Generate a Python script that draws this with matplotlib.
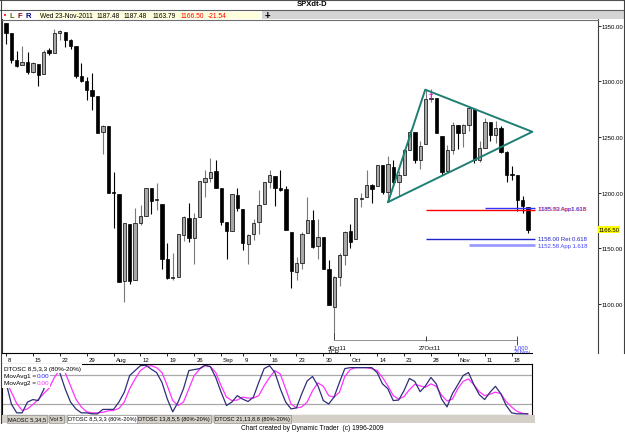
import matplotlib
matplotlib.use('Agg')
import matplotlib.pyplot as plt
import matplotlib.transforms as mtransforms
from matplotlib.patches import Rectangle
from matplotlib.lines import Line2D

# donnees SPX journalieres (8 juil. -> 23 nov. 2011)
opens = [1352.39, 1343.31, 1319.61, 1314.45, 1317.74, 1308.87, 1315.94, 1307.07, 1328.66, 1325.65,
         1343.80, 1344.32, 1337.39, 1331.91, 1304.84, 1300.12, 1292.59, 1286.56, 1254.25, 1260.23,
         1200.28, 1198.48, 1120.23, 1171.77, 1121.30, 1172.87, 1178.86, 1204.22, 1192.89, 1189.62,
         1140.47, 1123.55, 1124.36, 1162.16, 1176.69, 1158.85, 1177.91, 1209.76, 1213.00, 1219.12,
         1203.90, 1173.97, 1165.85, 1197.98, 1185.37, 1153.50, 1162.59, 1173.32, 1189.44, 1209.21,
         1214.99, 1204.50, 1203.63, 1164.55, 1128.82, 1136.91, 1163.32, 1175.39, 1151.74, 1159.93,
         1131.21, 1097.42, 1124.03, 1144.11, 1165.03, 1158.15, 1194.60, 1196.19, 1206.96, 1205.65,
         1224.47, 1200.75, 1223.46, 1209.92, 1215.39, 1238.72, 1254.19, 1229.17, 1243.97, 1284.39,
         1284.96, 1251.00, 1219.62, 1238.25, 1260.82, 1253.21, 1261.12, 1275.18, 1229.59, 1240.12,
         1263.25, 1251.70, 1257.81, 1236.56, 1216.19, 1215.62, 1192.98, 1187.48]
highs = [1352.39, 1343.31, 1327.17, 1331.48, 1326.88, 1317.70, 1315.94, 1328.14, 1330.43, 1347.00,
         1346.10, 1344.32, 1338.51, 1331.91, 1316.32, 1304.16, 1307.38, 1286.58, 1261.20, 1260.23,
         1218.11, 1198.48, 1172.88, 1171.77, 1186.29, 1189.04, 1204.49, 1204.22, 1208.47, 1189.62,
         1154.54, 1145.49, 1162.35, 1178.56, 1190.68, 1181.23, 1210.08, 1220.10, 1230.71, 1229.29,
         1203.90, 1173.97, 1198.62, 1204.40, 1185.37, 1162.52, 1176.41, 1202.38, 1209.11, 1220.06,
         1214.99, 1220.39, 1206.30, 1164.55, 1141.72, 1164.19, 1195.86, 1184.71, 1175.87, 1159.93,
         1138.99, 1125.12, 1146.07, 1165.55, 1171.40, 1194.91, 1199.24, 1220.25, 1207.46, 1224.61,
         1224.47, 1233.10, 1229.64, 1219.36, 1239.03, 1256.55, 1254.19, 1246.28, 1292.66, 1292.99,
         1284.96, 1251.00, 1242.48, 1263.21, 1260.82, 1261.70, 1277.55, 1275.18, 1246.22, 1266.98,
         1263.25, 1264.25, 1259.61, 1237.73, 1223.51, 1215.62, 1196.81, 1187.48]
lows = [1333.71, 1316.42, 1313.33, 1314.45, 1306.51, 1307.35, 1295.92, 1307.07, 1323.65, 1325.65,
        1336.95, 1331.09, 1329.10, 1303.49, 1299.16, 1282.86, 1274.73, 1254.03, 1234.56, 1199.54,
        1168.09, 1119.28, 1101.54, 1118.01, 1121.30, 1170.74, 1178.86, 1180.53, 1184.36, 1131.03,
        1122.05, 1121.09, 1124.36, 1156.30, 1155.47, 1135.91, 1177.91, 1195.77, 1209.35, 1203.85,
        1170.56, 1140.13, 1165.85, 1183.34, 1148.37, 1136.07, 1157.44, 1162.73, 1189.44, 1204.46,
        1188.36, 1201.29, 1166.21, 1114.22, 1121.36, 1131.07, 1163.32, 1150.40, 1139.93, 1131.34,
        1098.92, 1074.77, 1115.68, 1134.95, 1150.26, 1158.15, 1187.30, 1196.19, 1190.58, 1205.65,
        1198.55, 1191.48, 1206.31, 1197.34, 1215.39, 1238.72, 1226.79, 1221.06, 1243.97, 1281.10,
        1253.16, 1215.42, 1219.62, 1234.81, 1238.92, 1240.75, 1254.99, 1226.64, 1227.70, 1240.12,
        1246.68, 1244.34, 1235.67, 1209.43, 1211.36, 1183.16, 1181.65, 1163.79]
closes = [1343.80, 1319.49, 1313.64, 1317.72, 1308.87, 1316.14, 1305.44, 1326.73, 1325.84, 1343.80,
          1345.02, 1337.43, 1331.94, 1304.89, 1300.67, 1292.28, 1286.94, 1254.05, 1260.34, 1200.07,
          1199.38, 1119.46, 1172.53, 1120.76, 1172.64, 1178.81, 1204.49, 1192.76, 1193.89, 1140.65,
          1123.53, 1123.82, 1162.35, 1177.60, 1159.27, 1176.80, 1210.08, 1212.92, 1218.89, 1204.42,
          1173.97, 1165.24, 1198.62, 1185.90, 1154.23, 1162.27, 1172.87, 1188.68, 1209.11, 1216.01,
          1204.09, 1202.09, 1166.76, 1129.56, 1136.43, 1162.95, 1175.38, 1151.06, 1160.40, 1131.42,
          1099.23, 1123.95, 1144.03, 1164.97, 1155.46, 1194.89, 1195.54, 1207.25, 1203.66, 1224.58,
          1200.86, 1225.38, 1209.88, 1215.39, 1238.25, 1254.19, 1229.05, 1242.00, 1284.59, 1285.09,
          1253.30, 1218.28, 1237.90, 1261.15, 1253.23, 1261.12, 1275.92, 1229.10, 1239.69, 1263.85,
          1251.78, 1257.81, 1236.91, 1216.13, 1215.65, 1192.98, 1188.04, 1166.50]

# DTOSC 8,5,3,3
dtosc_fast = [65, 21, 3, 3, 25, 30, 28, 50, 85, 98, 85, 52, 25, 11, 3, 3, 1, 1, 10, 10,
              10, 25, 45, 79, 89, 99, 100, 92, 85, 65, 31, 5, 25, 52, 89, 91, 93, 100, 97, 75,
              45, 18, 25, 38, 31, 26, 35, 65, 93, 99, 85, 52, 25, 11, 13, 42, 68, 77, 58, 28,
              21, 35, 65, 93, 95, 95, 95, 95, 95, 85, 62, 52, 28, 29, 48, 73, 67, 46, 58, 75,
              62, 31, 15, 42, 60, 79, 85, 60, 40, 30, 45, 57, 42, 18, 3, 1, 1, 1]
dtosc_slow = [68, 45, 22, 8, 11, 20, 30, 42, 53, 75, 90, 85, 58, 31, 15, 5, 3, 3, 4, 7,
              8, 12, 25, 52, 72, 89, 97, 99, 95, 85, 58, 28, 18, 25, 52, 79, 92, 99, 97, 85,
              58, 35, 28, 29, 35, 33, 33, 38, 58, 75, 89, 82, 52, 21, 13, 15, 25, 48, 64, 57,
              38, 35, 45, 77, 91, 95, 95, 95, 93, 89, 75, 58, 38, 31, 36, 50, 61, 58, 55, 62,
              57, 39, 27, 31, 52, 67, 72, 60, 46, 38, 41, 45, 42, 26, 15, 6, 2, 1]

# semaines (vendredis) et etiquettes
week_idx = [0, 5, 10, 15, 20, 25, 30, 35, 40, 44, 49, 54, 59, 64, 69, 74, 79, 84, 89, 94]
week_lab = ['8', '15', '22', '29', 'Aug', '12', '19', '26', 'Sep', '9', '16', '23', '30',
            'Oct', '14', '21', '28', 'Nov', '11', '18']
price_ticks = [1100, 1150, 1200, 1250, 1300, 1350]

# triangle et niveaux
tri_x = [71, 77.9, 97.8, 71]
tri_y = [1191.5, 1292.6, 1254.7, 1191.5]
tabs = ['MAOSC 5,34,5', 'Vol 5', 'DTOSC 8,5,3,3 (80%-20%)', 'DTOSC 13,8,5,5 (80%-20%)',
        'DTOSC 21,13,8,8 (80%-20%)']
tab_x = [8, 50, 68, 138, 215]

plt.rcParams['font.family'] = ['Liberation Sans', 'DejaVu Sans']

W, H = 625, 435


def box(x0, y0, x1, y1):
    return [x0 / W, 1 - y1 / H, (x1 - x0) / W, (y1 - y0) / H]


def fx(x):
    return x / W


def fy(y):
    return 1 - y / H


fig = plt.figure(figsize=(6.25, 4.35), dpi=100)

# ---- entete
fig.add_artist(Line2D([0, 1], [fy(0.5), fy(0.5)], color='#505050', lw=0.8))
fig.text(fx(312), fy(5), 'SPXdt-D', ha='center', va='center', fontsize=5.5, weight='bold')
fig.add_artist(Line2D([0, 1], [fy(10.5), fy(10.5)], color='#606060', lw=0.8))
fig.add_artist(Rectangle((fx(262), fy(19.5)), fx(625 - 262), 9 / H, facecolor='#d4d4d4',
                         edgecolor='none'))
fig.add_artist(Rectangle((fx(38), fy(19.5)), fx(222), 7 / H, facecolor='#ffffdc',
                         edgecolor='none'))
fig.text(fx(5), fy(16), '•', color='red', fontsize=5, ha='center', va='center', family='DejaVu Sans')
for xx, t, c in [(12, 'L', '#556b00'), (20, 'F', '#8b0000'), (28, 'R', '#000080')]:
    fig.text(fx(xx), fy(16), t, color=c, fontsize=5.5, ha='center', va='center', weight='bold')
for xx, t, c in [(40, 'Wed 23-Nov-2011', 'black'), (97, '1187.48', 'black'),
                 (124, '1187.48', 'black'), (153, '1163.79', 'black'),
                 (181, '1166.50', 'red'), (208, '-21.54', 'red')]:
    fig.text(fx(xx), fy(16), t, color=c, fontsize=4.8, ha='left', va='center')
fig.text(fx(267), fy(16), '+', fontsize=7, ha='center', va='center', weight='bold')

# ---- graphique principal
ax = fig.add_axes(box(2, 20.5, 598, 354))
n = len(closes)
xs = list(range(n))
body_b, body_h, body_c, wick_c = [], [], [], []
for o, c in zip(opens, closes):
    body_b.append(min(o, c))
    body_h.append(max(abs(c - o), 0.8))
    body_c.append('#a8a8a8' if c >= o else 'black')
    wick_c.append('#7a7a7a' if c >= o else 'black')
ax.vlines(xs, lows, highs, colors=wick_c, lw=0.8, zorder=2)
ax.bar(xs, body_h, bottom=body_b, width=0.62, color=body_c, edgecolor='black', lw=0.5, zorder=3)

ax.plot(tri_x, tri_y, color='#1f7f73', lw=1.4, zorder=4, clip_on=False)
ax.text(79, 1288, '†', color='#ff00ff', fontsize=6, ha='center', va='center', family='DejaVu Sans')

# niveaux de prix
ax.hlines(1184.5, 78, 98.3, color='red', lw=1, zorder=4)
ax.hlines(1185.8, 89, 98.3, color='#3333ff', lw=1, zorder=4)
ax.hlines(1158.0, 78, 98.3, color='#2222cc', lw=1, zorder=4)
ax.hlines(1152.58, 86, 98.3, color='#9a9aff', lw=2, zorder=4)
ax.text(98.9, 1185.9, '1185.93 App1.618', color='#3333ff', fontsize=4.3, va='center')
ax.text(98.95, 1185.3, '1185.53 Apc1.618', color='#ff2020', fontsize=4.3, va='center', alpha=0.8)
ax.text(98.9, 1158.6, '1158.00 Ret 0.618', color='#2222cc', fontsize=4.3, va='center')
ax.text(98.9, 1152.3, '1152.58 App 1.618', color='#4444ff', fontsize=4.3, va='center')

# marqueurs de temps
ax.hlines(1067.5, 61, 95, color='#909090', lw=0.7)
ax.vlines(61, 1067.5, lows[61], color='#404040', lw=0.7)
ax.vlines(78, 1066.5, 1071, color='#404040', lw=0.7)
ax.vlines(95, 1063, 1071, color='#3333ff', lw=0.7)
ax.text(59.9, 1061, '4Oct11', fontsize=4.2, va='center')
ax.text(59.9, 1057.3, 'TCR', fontsize=4.2, va='center')
ax.text(76.6, 1061, '27Oct11', fontsize=4.2, va='center')
ax.text(94.3, 1061, '1.000', fontsize=4.2, va='center', color='#3333ff')
ax.text(94.3, 1057.3, '21Nov', fontsize=4.2, va='center', color='#3333ff')

ax.set_xlim(-0.74, 110.0)
ax.set_ylim(1055.7, 1355.7)
ax.set_xticks([])
ax.yaxis.tick_right()
ax.set_yticks(price_ticks)
ax.set_yticklabels([f'{v:.2f}' for v in price_ticks])
ax.tick_params(axis='y', direction='out', length=2, width=0.6, labelsize=4.3, pad=0.8)
ax.spines['bottom'].set_visible(False)
ax.spines['top'].set_color('#707070')
ax.spines['right'].set_color('#404040')
ax.spines['left'].set_color('#303030')
for s in ax.spines.values():
    s.set_linewidth(0.8)
ytr = mtransforms.blended_transform_factory(ax.transAxes, ax.transData)
ax.text(1.001, 1166.5, '1166.50', transform=ytr, fontsize=4.3, va='center', ha='left',
        bbox=dict(facecolor='#ffff00', edgecolor='none', pad=0.6))

# ---- axe des dates
dax = fig.add_axes(box(2, 354, 532, 365))
dax.set_xlim(-0.74, 97.8)
dax.set_ylim(0, 1)
for k in ['left', 'right', 'bottom']:
    dax.spines[k].set_visible(False)
dax.spines['top'].set_linewidth(0.8)
dax.set_yticks([])
dax.xaxis.tick_top()
dax.set_xticks(week_idx)
dax.set_xticklabels([])
dax.tick_params(axis='x', direction='in', length=2.2, width=0.6)
dtr = mtransforms.offset_copy(mtransforms.blended_transform_factory(dax.transData, dax.transAxes),
                              fig=fig, x=2, y=0, units='dots')
for i, lab in zip(week_idx, week_lab):
    dax.text(i, 0.42, lab, transform=dtr, fontsize=4.3, ha='left', va='center')

# ---- oscillateur
oax = fig.add_axes(box(2, 365, 532, 416))
oax.set_xlim(-0.74, 97.8)
oax.set_ylim(-1.4, 102.4)
oax.axhline(80, color='#a8a8a8', lw=0.9)
oax.axhline(20, color='#a8a8a8', lw=0.9)
oax.plot(xs, dtosc_slow, color='#ff33ff', lw=0.9)
oax.plot(xs, dtosc_fast, color='#2e2e78', lw=0.9)
oax.set_xticks([])
oax.set_yticks([])
for s in oax.spines.values():
    s.set_linewidth(0.8)
otr = oax.transAxes.inverted()


def opx(x, y):
    return otr.transform(fig.transFigure.transform((fx(x), fy(y))))


r1 = opx(2, 374)
oax.add_patch(Rectangle(r1, opx(82, 365)[0] - r1[0], opx(82, 365)[1] - r1[1], transform=oax.transAxes,
                        facecolor='white', edgecolor='none', zorder=5))
r2 = opx(2, 389)
oax.add_patch(Rectangle(r2, opx(50, 365)[0] - r2[0], opx(50, 365)[1] - r2[1], transform=oax.transAxes,
                        facecolor='white', edgecolor='none', zorder=5))
for xx, yy, t, c in [(4, 369.5, 'DTOSC 8,5,3,3 (80%-20%)', 'black'),
                     (4, 377, 'MovAvg1 = ', 'black'), (37, 377, '0.00', '#2222ff'),
                     (4, 384, 'MovAvg2 = ', 'black'), (37, 384, '0.00', '#ff33ff')]:
    fig.text(fx(xx), fy(yy), t, color=c, fontsize=4.6, ha='left', va='center', zorder=6)

# ---- onglets
fig.add_artist(Rectangle((fx(2), fy(424)), fx(533), 8 / H, facecolor='#d4d0c8', edgecolor='none'))
for xx, t in zip(tab_x, tabs):
    fc = 'white' if t.startswith('DTOSC 8') else '#d4d0c8'
    fig.text(fx(xx), fy(420), t, fontsize=4.1, ha='left', va='center',
             bbox=dict(facecolor=fc, edgecolor='#808080', lw=0.4, pad=0.8))
fig.text(fx(312), fy(429), 'Chart created by Dynamic Trader  (c) 1996-2009', ha='center',
         va='center', fontsize=4.8)

# cadre
fig.add_artist(Line2D([fx(1), fx(1)], [fy(0), fy(424)], color='#404040', lw=0.8))
fig.add_artist(Line2D([fx(623.5), fx(623.5)], [fy(0), fy(354)], color='#404040', lw=0.8))

plt.savefig('out.png', dpi=100)
